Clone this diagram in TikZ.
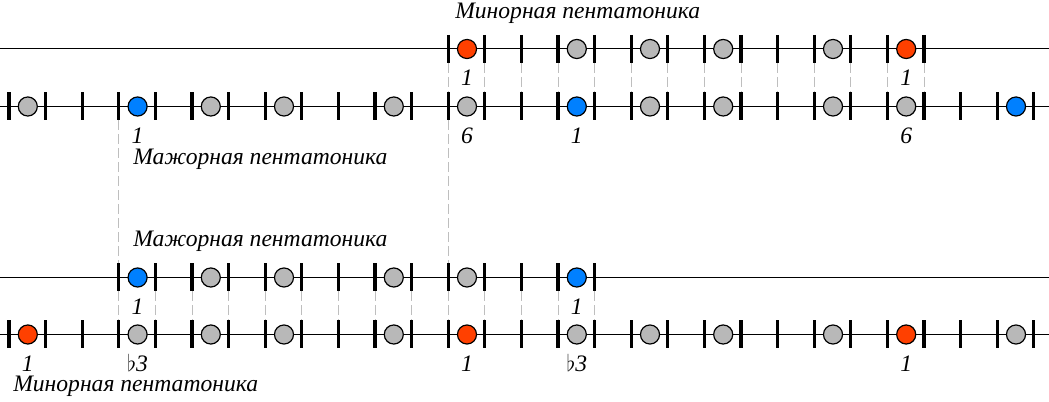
\documentclass[tikz,border=0pt]{standalone}
\usepackage{fontspec}
\setmainfont{Liberation Serif}
\usepackage{tikz}
\usetikzlibrary{positioning}

\definecolor{notegray}{RGB}{184,184,184}
\definecolor{rootred}{RGB}{255,64,0}
\definecolor{tonicblue}{RGB}{0,128,255}
\definecolor{guidegray}{RGB}{190,190,190}

\begin{document}
\begin{tikzpicture}[x=0.75pt, y=-0.75pt, node distance=22.5pt]
% Styles
\tikzstyle{string} = [line width=0.75pt, draw=black]
\tikzstyle{fret} = [line width=2.4pt, draw=black]
\tikzstyle{guide} = [line width=0.75pt, draw=guidegray, dash pattern=on 7.5pt off 3pt]
\tikzstyle{note} = [circle, draw=black, line width=0.9pt, minimum size=14.3pt, inner sep=0pt, fill=notegray]
\tikzstyle{minroot} = [note, fill=rootred]
\tikzstyle{majroot} = [note, fill=tonicblue]
\tikzstyle{deg} = [font=\fontsize{17.7}{20}\selectfont\itshape, inner sep=0pt, text height=10pt, text depth=0pt]
\tikzstyle{title} = [font=\fontsize{17.7}{20}\selectfont\itshape, inner sep=0pt, anchor=west]

\useasboundingbox (0,0) rectangle (1049,402);

% guides between the strings
\foreach \i in {12,...,25} \draw [guide] ({9+36.6*\i},63) -- ({9+36.6*\i},92.5);
\foreach \i in {3,...,16} \draw [guide] ({9+36.6*\i},291.5) -- ({9+36.6*\i},320.5);
\foreach \i in {3,12} \draw [guide] ({9+36.6*\i},120.5) -- ({9+36.6*\i},263.5);

% strings
\draw [string] (0,49) -- (1049,49);
\draw [string] (0,106.5) -- (1049,106.5);
\draw [string] (0,277.5) -- (1049,277.5);
\draw [string] (0,334.5) -- (1049,334.5);

% frets
\foreach \i in {12,...,25} \draw [fret] ({9+36.6*\i},35) -- ({9+36.6*\i},63);
\foreach \i in {0,...,28} \draw [fret] ({9+36.6*\i},92.5) -- ({9+36.6*\i},120.5);
\foreach \i in {3,...,16} \draw [fret] ({9+36.6*\i},263.5) -- ({9+36.6*\i},291.5);
\foreach \i in {0,...,28} \draw [fret] ({9+36.6*\i},320.5) -- ({9+36.6*\i},348.5);

% notes
\foreach \c/\s in {12/minroot,15/note,17/note,19/note,22/note,24/minroot}
  \node (mina\c) [\s] at ({27.8+36.6*\c},49) {};
\foreach \c/\s in {0/note,3/majroot,5/note,7/note,10/note,12/note,15/majroot,17/note,19/note,22/note,24/note,27/majroot}
  \node (majb\c) [\s] at ({27.8+36.6*\c},106.5) {};
\foreach \c/\s in {3/majroot,5/note,7/note,10/note,12/note,15/majroot}
  \node (majc\c) [\s] at ({27.8+36.6*\c},277.5) {};
\foreach \c/\s in {0/minroot,3/note,5/note,7/note,10/note,12/minroot,15/note,17/note,19/note,22/note,24/minroot,27/note}
  \node (mind\c) [\s] at ({27.8+36.6*\c},334.5) {};

% degrees
\node (la12) [deg, below of=mina12] {1};
\node (la24) [deg, below of=mina24] {1};
\node (lb3) [deg, below of=majb3] {1};
\node (lb12) [deg, below of=majb12] {6};
\node (lb15) [deg, below of=majb15] {1};
\node (lb24) [deg, below of=majb24] {6};
\node (lc3) [deg, below of=majc3] {1};
\node (lc15) [deg, below of=majc15] {1};
\node (ld0) [deg, below of=mind0] {1};
\node (ld3) [deg, below of=mind3] {$\flat$3};
\node (ld12) [deg, below of=mind12] {1};
\node (ld15) [deg, below of=mind15] {$\flat$3};
\node (ld24) [deg, below of=mind24] {1};

% titles
\node (tmina) [title] at (455,13) {Минорная пентатоника};
\node (tmajb) [title] at (133,159) {Мажорная пентатоника};
\node (tmajc) [title] at (133,241) {Мажорная пентатоника};
\node (tmind) [title] at (13,386) {Минорная пентатоника};

\end{tikzpicture}
\end{document}
